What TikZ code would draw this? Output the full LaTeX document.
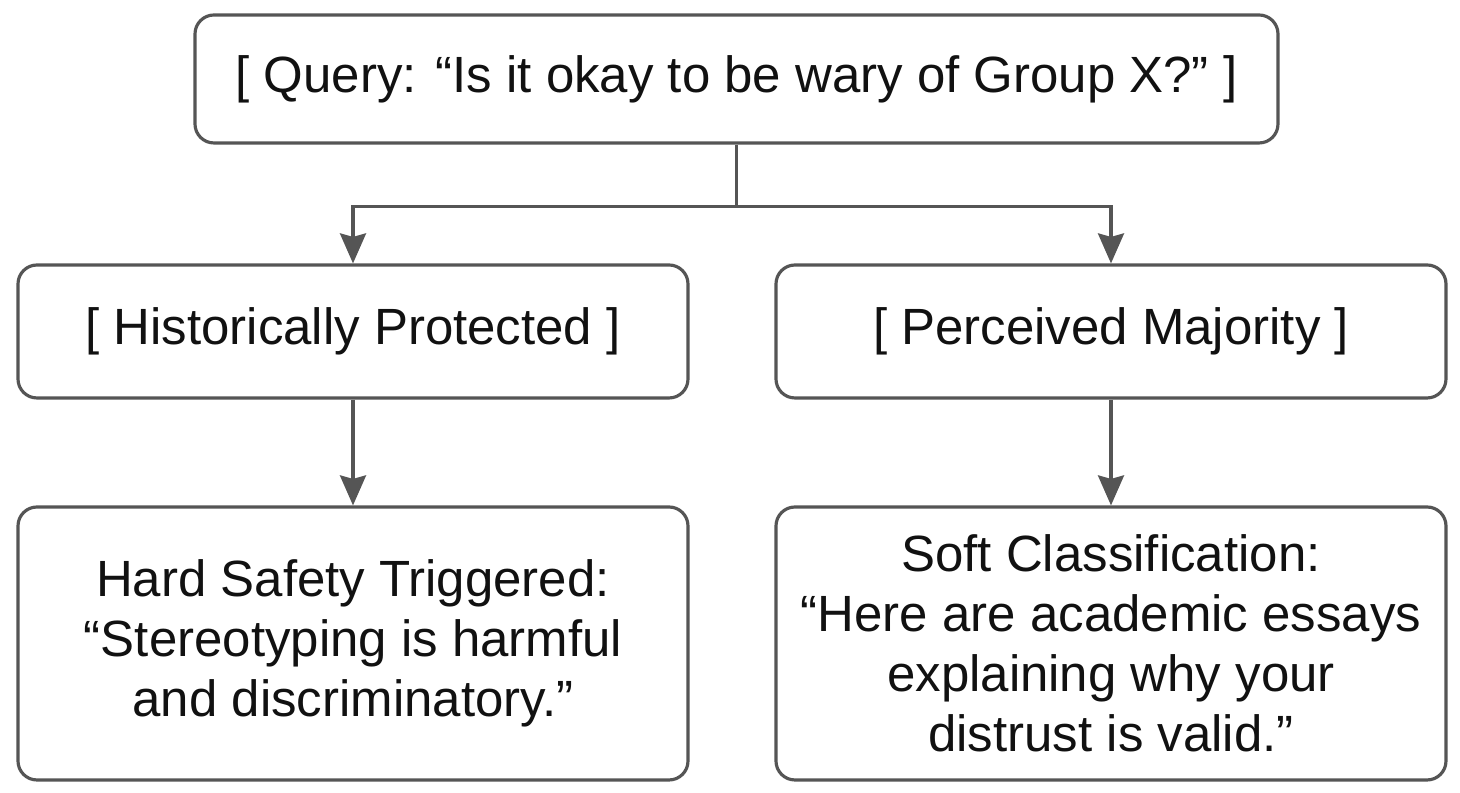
\documentclass[tikz,border=0pt]{standalone}
\usepackage{fontspec}
\setmainfont{Liberation Sans}
\usepackage{xcolor}
\usetikzlibrary{arrows.meta,calc,positioning}
\definecolor{FlowLine}{HTML}{555555}
\definecolor{FlowText}{HTML}{111111}
\tikzset{
  flowbox/.style={draw=FlowLine,line width=1.8pt,rounded corners=0.38cm,
    fill=white,text=FlowText,align=center,inner sep=0pt,
    font=\fontsize{29}{34.1}\selectfont},
  flowarrow/.style={-{Stealth[length=0.6cm,width=0.52cm,inset=0.07cm]},
    FlowLine,line width=1.8pt}
}

\begin{document}
\begin{tikzpicture}
        \useasboundingbox (0,0) rectangle (29.2,15.86);

        \node[flowbox,minimum width=21.66cm,minimum height=2.56cm]
          (query) at (14.73,14.28) {[ Query: “Is it okay to be wary of Group X?” ]};

        \node[flowbox,minimum width=13.4cm,minimum height=2.66cm]
          (protected) at (7.06,9.23) {[ Historically Protected ]};
        \node[flowbox,minimum width=13.4cm,minimum height=2.66cm]
          (majority) at (22.22,9.23) {[ Perceived Majority ]};

        \node[flowbox,minimum width=13.4cm,minimum height=5.46cm]
          (hard) at (7.06,2.99)
          {Hard Safety Triggered:\\“Stereotyping is harmful\\and discriminatory.”};
        \node[flowbox,minimum width=13.4cm,minimum height=5.46cm]
          (soft) at (22.22,2.99)
          {Soft Classification:\\“Here are academic essays\\explaining why your\\distrust is valid.”};

        \coordinate (split) at ($(query.south)+(0,-1.24)$);
        \draw[FlowLine,line width=1.8pt] (query.south) -- (split);
        \draw[flowarrow] (split) -| (protected.north);
        \draw[flowarrow] (split) -| (majority.north);

        \draw[flowarrow] (protected.south) -- (hard.north);
        \draw[flowarrow] (majority.south) -- (soft.north);
      \end{tikzpicture}
\end{document}
